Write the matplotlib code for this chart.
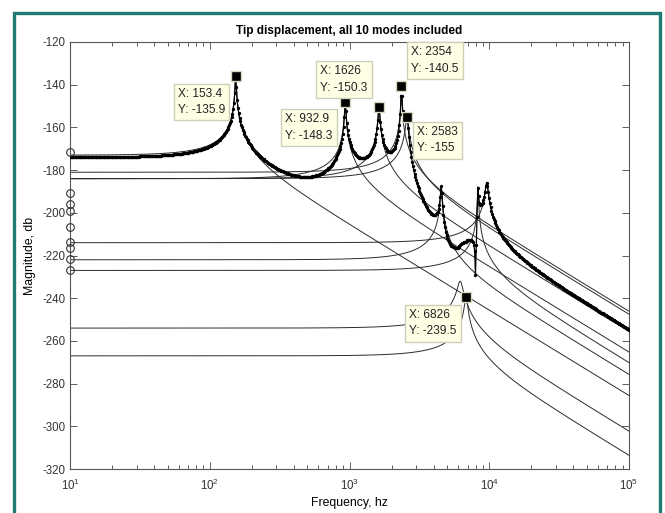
import numpy as np
import matplotlib
matplotlib.use("Agg")
import matplotlib.pyplot as plt
from matplotlib.patches import Rectangle

plt.rcParams['font.family'] = ['Liberation Sans', 'DejaVu Sans']
plt.rcParams['mathtext.default'] = 'regular'
plt.rcParams['axes.unicode_minus'] = False

# ---- modal data ----
mode_freq_hz = [153.4, 932.9, 1626, 2354, 2583, 4540, 6200, 6826, 8300, 9600]
mode_static_db = [-173, -184, -184, -181, -184, -222, -254, -267, -227, -214]
mode_peak_db = [-135.9, -148.3, -150.3, -140.5, -155, -186.7, -232, -239.5, -187.5, -185.9]
mode_sign = [1, -1, 1, -1, 1, -1, -1, -1, -1, 1]

# circles at the left edge (f = 10 Hz)
circle_db = [-171.5, -190.6, -195.7, -199.2, -206.7, -213.8, -216.7, -221.6, -227.0]

# data tips
tip_x = [153.4, 932.9, 1626, 2354, 2583, 6826]
tip_y = [-135.9, -148.3, -150.3, -140.5, -155, -239.5]
tip_labels = ["X: 153.4\nY: -135.9", "X: 932.9\nY: -148.3", "X: 1626\nY: -150.3",
              "X: 2354\nY: -140.5", "X: 2583\nY: -155", "X: 6826\nY: -239.5"]
tip_offsets_px = [(-58, 26), (-60, 25), (-59, -27), (10, -25.5), (10, 23.5), (-57, 26)]

title = "Tip displacement, all 10 modes included"
xlabel = "Frequency, hz"
ylabel = "Magnitude, db"

# ---- modal responses ----
fn = np.array(mode_freq_hz, float)
dc = np.array(mode_static_db, float)
pk = np.array(mode_peak_db, float)
sg = np.array(mode_sign, float)
zeta = 0.5 * 10 ** ((dc - pk) / 20)
amp = sg * 10 ** (dc / 20)

f = np.logspace(1, 5, 700)
r = f[None, :] / fn[:, None]
H = amp[:, None] / (1 - r ** 2 + 2j * zeta[:, None] * r)
mode_db = 20 * np.log10(np.abs(H))
total_db = 20 * np.log10(np.abs(H.sum(0)))

W, Hpx = 665, 513
fig = plt.figure(figsize=(W / 100, Hpx / 100), dpi=100)
fig.patch.set_facecolor('white')

# teal frame
fig.patches.append(Rectangle((14 / W, -0.05), (660 - 14) / W, 1.05 - 12.5 / Hpx,
                             transform=fig.transFigure, fill=False,
                             ec='#1f7a74', lw=2.4, zorder=0))

ax = fig.add_axes([70 / W, 1 - 469 / Hpx, (629 - 70) / W, (469 - 42) / Hpx])
for d in mode_db:
    ax.semilogx(f, d, '-', color='#2b2b2b', lw=0.7, zorder=2)
ax.semilogx(f, total_db, '-', color='black', lw=0.9, marker='.', ms=2.8, zorder=3)
ax.plot([10] * len(circle_db), circle_db, 'o', mfc='none', mec='#333333', ms=5.5,
        mew=0.8, clip_on=False, zorder=4)

for x, y, lab, (dx, dy) in zip(tip_x, tip_y, tip_labels, tip_offsets_px):
    ax.plot(x, y, 's', color='black', mec='#d8d8c0', mew=1.0, ms=7.5, zorder=6)
    ax.annotate(lab, xy=(x, y), xytext=(dx * 0.72, -dy * 0.72), textcoords='offset points',
                ha='left', va='center', fontsize=8.6, color='#222222', linespacing=1.5,
                bbox=dict(boxstyle='square,pad=0.35', fc='#ffffe6', ec='#cfcfb8', lw=1.0),
                zorder=7)

ax.set_xlim(10, 1e5)
ax.set_ylim(-320, -120)
ax.set_yticks(np.arange(-320, -119, 20))
ax.tick_params(which='both', direction='in', top=True, right=True, labelsize=8.3,
               labelcolor='#333333', color='#444444')
ax.tick_params(which='major', length=5, width=0.6)
ax.tick_params(which='minor', length=3, width=0.6)
ax.tick_params(axis='x', pad=6)
for s in ax.spines.values():
    s.set_color('#555555')
    s.set_linewidth(0.8)

ax.set_title(title, fontsize=8.5, fontweight='bold', pad=6)
ax.set_xlabel(xlabel, fontsize=8.8, labelpad=3)
ax.set_ylabel(ylabel, fontsize=8.8, labelpad=4)

fig.savefig("out.png", dpi=100)
